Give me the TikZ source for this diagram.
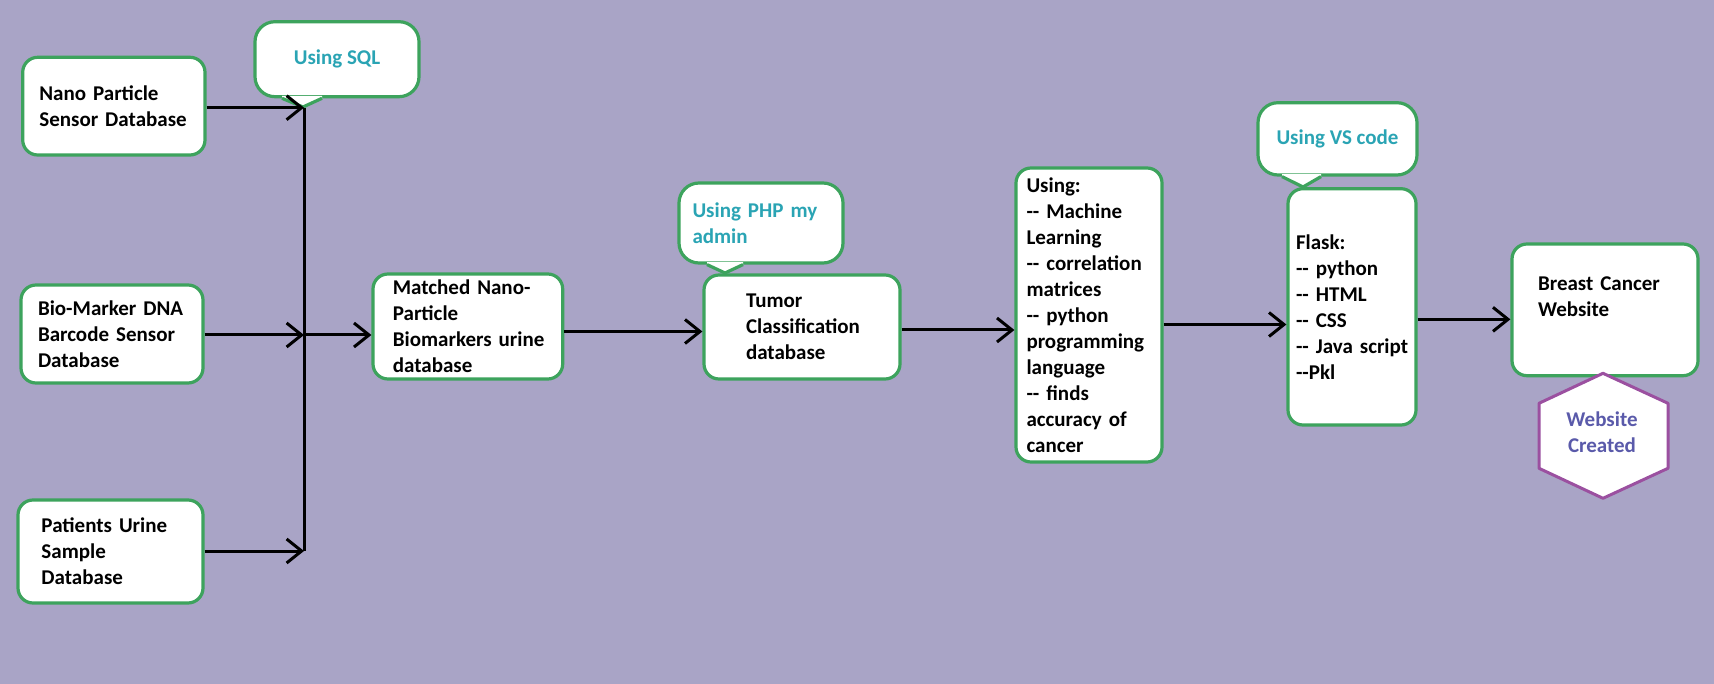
\documentclass[tikz,border=0pt]{standalone}
\usepackage{fontspec}
\setmainfont{Carlito}
\usetikzlibrary{arrows.meta}
\definecolor{bgcol}{RGB}{169,164,198}
\definecolor{boxgreen}{RGB}{61,163,93}
\definecolor{calltext}{RGB}{42,164,180}
\definecolor{hexpurple}{RGB}{155,80,160}
\definecolor{hextext}{RGB}{90,90,170}
\newcommand{\nohyph}{\hyphenpenalty 10000 \exhyphenpenalty 10000 \relax}
\newcommand{\dd}{-{}-}
\begin{document}
\begin{tikzpicture}[x=1pt,y=-1pt,
  txt/.style={font={\bfseries\fontsize{21}{26}\selectfont}},
  box/.style={txt, draw=boxgreen, line width=3.2pt, fill=white, rounded corners=15pt,
    inner xsep=0pt, inner ysep=0pt, align=left},
  callout/.style={txt, text=calltext, draw=boxgreen, line width=3.2pt, fill=white,
    rounded corners=20pt, inner xsep=0pt, inner ysep=0pt},
  tailfill/.style={fill=white},
  tailline/.style={draw=boxgreen, line width=3.2pt, line join=round},
  conn/.style={line width=3pt},
  arr/.style={line width=3pt, -{Straight Barb[length=15pt,width=24pt]}}]
\fill[bgcol] (0,0) rectangle (1714,684);
\useasboundingbox (0,0) rectangle (1714,684);

% callouts
\node[callout, minimum width=164pt, minimum height=75pt] (sql) at (337,59.2) {Using SQL};
\node[callout, minimum width=164pt, minimum height=80pt, text width=137pt, align=left] (php) at (761,223) {\nohyph Using PHP~my\\admin};
\node[callout, minimum width=159pt, minimum height=72.3pt] (vs) at (1337.5,138.85) {Using VS code};

\coordinate (sqltip) at (303,107);
\coordinate (phptip) at (725,273);
\coordinate (vstip) at (1303,187);

\fill[tailfill] ([xshift=-55pt,yshift=2.5pt]sql.south) -- ([xshift=-55pt]sql.south) -- (sqltip) -- ([xshift=-15pt]sql.south) -- ([xshift=-15pt,yshift=2.5pt]sql.south) -- cycle;
\draw[tailline] ([xshift=-55pt]sql.south) -- (sqltip) -- ([xshift=-15pt]sql.south);
\fill[tailfill] ([xshift=-54pt,yshift=2.5pt]php.south) -- ([xshift=-54pt]php.south) -- (phptip) -- ([xshift=-18pt]php.south) -- ([xshift=-18pt,yshift=2.5pt]php.south) -- cycle;
\draw[tailline] ([xshift=-54pt]php.south) -- (phptip) -- ([xshift=-18pt]php.south);
\fill[tailfill] ([xshift=-55.5pt,yshift=2.5pt]vs.south) -- ([xshift=-55.5pt]vs.south) -- (vstip) -- ([xshift=-16.5pt]vs.south) -- ([xshift=-16.5pt,yshift=2.5pt]vs.south) -- cycle;
\draw[tailline] ([xshift=-55.5pt]vs.south) -- (vstip) -- ([xshift=-16.5pt]vs.south);

% boxes
\node[box, minimum width=182.3pt, minimum height=97.7pt, text width=149pt] (nano) at (113.85,106.15) {\nohyph Nano~Particle\\Sensor~Database};
\node[box, minimum width=182pt, minimum height=98pt, text width=148pt] (bio) at (112,334) {\nohyph Bio-Marker~DNA\\Barcode~Sensor\\Database};
\node[box, minimum width=185pt, minimum height=103pt, text width=138pt] (patients) at (110.5,551.5) {\nohyph Patients~Urine\\Sample\\Database};
\node[box, minimum width=189.7pt, minimum height=105pt, text width=150pt] (matched) at (467.85,326.5) {\nohyph Matched~Nano-\\Particle\\Biomarkers~urine\\database};
\node[box, minimum width=196pt, minimum height=104pt, text width=112pt] (tumor) at (802,327) {\nohyph Tumor\\Classification\\database};
\node[box, minimum width=146pt, minimum height=294pt, text width=125pt] (ml) at (1089,315) {\nohyph Using:\\\dd{}~Machine\\Learning\\\dd{}~correlation\\matrices\\\dd{}~python\\programming\\language\\\dd{}~finds\\accuracy~of\\cancer};
\node[box, minimum width=128pt, minimum height=236.3pt, text width=112pt] (flask) at (1352,306.85) {\nohyph Flask:\\\dd{}~python\\\dd{}~HTML\\\dd{}~CSS\\\dd{}~Java~script\\\dd{}Pkl};
\node[box, minimum width=186pt, minimum height=131.7pt, text width=134pt] (breast) at (1605,309.85) {\nohyph Breast~Cancer\\Website\\\mbox{}};

% hexagon
\path[draw=hexpurple, line width=3pt, fill=white, line join=round]
  (1603,373.3) -- (1668,403.3) -- (1668,468.3) -- (1603,498.3) -- (1539,468.3) -- (1539,403.3) -- cycle;
\node[txt, text=hextext, align=center, inner sep=0pt] (web) at (1602,432) {Website\\Created};

% connectors
\coordinate (jn) at (304,107.7);
\coordinate (jb) at (304,335);
\coordinate (jp) at (304,551);
\draw[conn] (jn) -- (jp);
\draw[arr] (nano.east |- jn) -- (jn);
\draw[arr] (bio.east |- jb) -- (jb);
\draw[arr] (patients.east |- jp) -- (jp);
\draw[arr] (jb) -- (matched.west |- jb);
\draw[arr] ([yshift=-5pt]matched.east) -- ([yshift=-5pt]matched.east -| tumor.west);
\draw[arr] ([yshift=-3pt]tumor.east) -- ([yshift=-3pt]tumor.east -| ml.west);
\draw[arr] ([yshift=-9.5pt]ml.east) -- ([yshift=-9.5pt]ml.east -| flask.west);
\draw[arr] ([yshift=-12.5pt]flask.east) -- ([yshift=-12.5pt]flask.east -| breast.west);
\end{tikzpicture}
\end{document}
